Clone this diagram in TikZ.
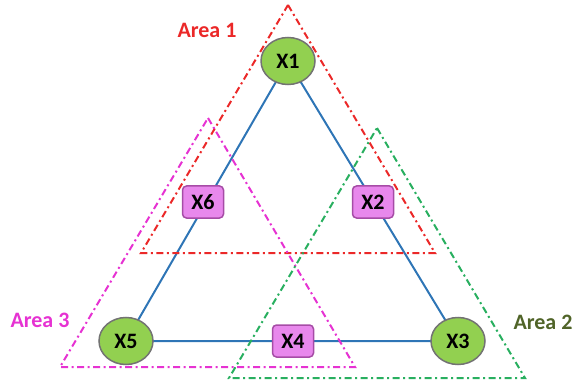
\documentclass[tikz,border=0pt]{standalone}
\usepackage{fontspec}
\setmainfont{Carlito}
\usetikzlibrary{shapes.geometric,backgrounds}
\definecolor{leafgreen}{RGB}{146,208,80}
\definecolor{nodepink}{RGB}{232,136,236}
\definecolor{linkblue}{RGB}{46,117,182}
\definecolor{areared}{RGB}{235,40,40}
\definecolor{areamag}{RGB}{230,50,210}
\definecolor{areagreen}{RGB}{40,175,95}
\definecolor{olivetext}{RGB}{80,100,40}
\tikzset{
  hub/.style={ellipse,draw=black!55,line width=1.5pt,fill=leafgreen,minimum width=54pt,minimum height=47pt,inner sep=0pt,font=\bfseries\fontsize{22}{22}\selectfont},
  relay/.style={rectangle,rounded corners=4pt,draw=violet!70,line width=1.5pt,fill=nodepink,minimum width=41pt,minimum height=32pt,inner sep=0pt,font=\bfseries\fontsize{22}{22}\selectfont},
  area/.style={line width=2pt,dash pattern=on 7pt off 3.5pt on 2pt off 3.5pt},
  arealabel/.style={font=\bfseries\fontsize{22}{22}\selectfont}
}
\begin{document}
\begin{tikzpicture}[x=1pt,y=-1pt]
\useasboundingbox (0,0) rectangle (577,387);
\draw[area,areared] (288,5)--(435,253)--(141,253)--cycle;
\draw[area,areamag] (208,118)--(355,367)--(60,367)--cycle;
\draw[area,areagreen] (377,128)--(525,378)--(229,378)--cycle;
\node[arealabel,text=areared] (a1) at (207,30){Area 1};
\node[arealabel,text=areamag] (a3) at (40,320){Area 3};
\node[arealabel,text=olivetext] (a2) at (543,322){Area 2};
\node[hub] (x1) at (288,61){X1};\node[hub] (x5) at (126,341){X5};\node[hub] (x3) at (458,341){X3};
\node[relay] (x6) at (203,202){X6};\node[relay] (x2) at (373,202){X2};\node[relay] (x4) at (293,341){X4};
\begin{scope}[on background layer]
\draw[linkblue,line width=2pt] (x1.center)--(x3.center)--(x5.center)--(x1.center);
\end{scope}
\end{tikzpicture}
\end{document}
